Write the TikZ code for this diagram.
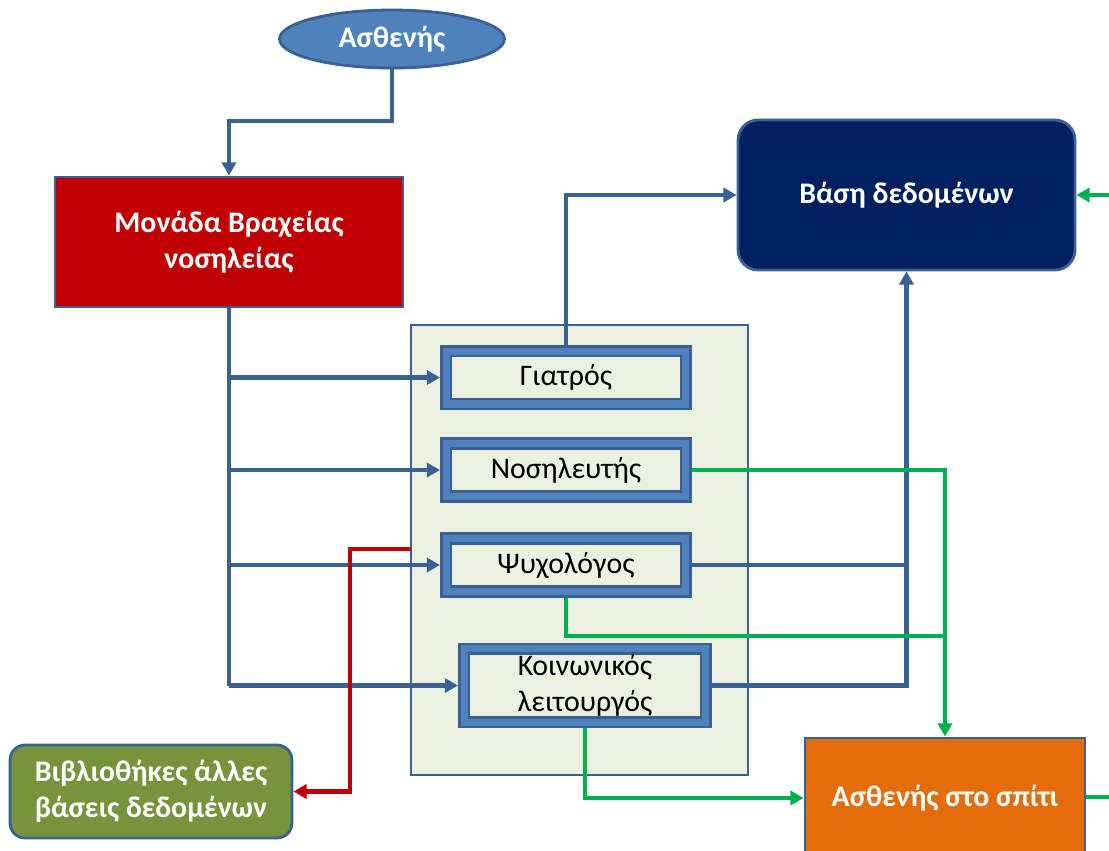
\documentclass[tikz,border=0pt]{standalone}
\usepackage{fontspec}
\setmainfont{Carlito}
\usepackage{xcolor}
\usepackage{tikz}
\usetikzlibrary{shapes.geometric, arrows.meta, positioning}

\definecolor{edgeblue}{HTML}{3A6193}
\definecolor{midblue}{HTML}{4F81BD}
\definecolor{unitred}{HTML}{C00000}
\definecolor{panelfill}{HTML}{EBF1DE}
\definecolor{dbnavy}{HTML}{002060}
\definecolor{homeorange}{HTML}{E46C0A}
\definecolor{libolive}{HTML}{77933C}
\definecolor{flowgreen}{HTML}{00B050}

\begin{document}
\begin{tikzpicture}[
    x=0.02cm, y=-0.02cm,
    % Shapes
    startnode/.style={ellipse, draw=edgeblue, fill=midblue, line width=1.6pt, minimum width=4.5cm, minimum height=1.16cm, inner sep=0pt, text=white, font=\fontsize{17}{20.5}\selectfont\bfseries},
    bigbox/.style={rectangle, draw=edgeblue, line width=1.6pt, align=center, text=white, font=\fontsize{17}{20.5}\selectfont\bfseries},
    panel/.style={rectangle, draw=edgeblue, fill=panelfill, line width=1.6pt, minimum width=6.74cm, minimum height=9cm},
    rolebox/.style={rectangle, draw=edgeblue, double=midblue, double distance=4pt, line width=1.5pt, fill=panelfill, minimum width=4.8cm, minimum height=1.06cm, outer sep=0.12cm, align=center, font=\fontsize{17}{20.5}\selectfont},
    % Connectors
    blueline/.style={draw=edgeblue, line width=2.3pt},
    bluearrow/.style={blueline, -{Triangle[length=7.5pt,width=8pt]}},
    greenline/.style={draw=flowgreen, line width=2.3pt},
    greenarrow/.style={greenline, -{Triangle[length=7.5pt,width=8pt]}},
    redarrow/.style={draw=unitred, line width=2.3pt, -{Triangle[length=7.5pt,width=8pt]}}
]
    \clip (0,0) rectangle (1109,850);

    % Patient
    \node[startnode] (patient) at (392,39) {Ασθενής};

    % Short stay unit
    \node[bigbox, fill=unitred, minimum width=6.96cm, minimum height=2.6cm] (unit) at (229,242) {Μονάδα Βραχείας\\νοσηλείας};

    % Staff panel
    \node[panel] (staff) at (579.5,550) {};
    \node[rolebox] (doctor) at (566,377.5) {Γιατρός};
    \node[rolebox] (nurse) at (566,470) {Νοσηλευτής};
    \node[rolebox] (psych) at (566,565) {Ψυχολόγος};
    \node[rolebox, minimum width=4.84cm, minimum height=1.42cm] (social) at (585,685.5) {Κοινωνικός\\λειτουργός};

    % Database
    \node[bigbox, fill=dbnavy, rounded corners=0.4cm, minimum width=6.74cm, minimum height=3cm] (db) at (906.5,195) {Βάση δεδομένων};

    % Patient at home
    \node[bigbox, fill=homeorange, minimum width=5.6cm, minimum height=2.4cm] (home) at (945,798) {Ασθενής στο σπίτι};

    % Other libraries
    \node[bigbox, fill=libolive, rounded corners=0.3cm, minimum width=5.64cm, minimum height=1.86cm] (libs) at (151,791.5) {Βιβλιοθήκες άλλες\\βάσεις δεδομένων};

    % Free ends
    \coordinate (greenjoin) at (945,636);
    \coordinate (redstart) at (411,549);
    \coordinate (dbin) at (1109,195);
    \coordinate (homeout) at (1109,797);

    % Blue flow
    \draw[bluearrow] (patient.south) -- ++(0,52) -| (unit.north);
    \draw[blueline] (unit.south) -- (unit.south |- social.west);
    \draw[bluearrow] (unit.south |- doctor.west) -- (doctor.west);
    \draw[bluearrow] (unit.south |- nurse.west) -- (nurse.west);
    \draw[bluearrow] (unit.south |- psych.west) -- (psych.west);
    \draw[bluearrow] (unit.south |- social.west) -- (social.west);
    \draw[bluearrow] (doctor.north) |- (db.west);
    \draw[blueline] (psych.east) -- (psych.east -| db.south);
    \draw[bluearrow] (social.east) -| (db.south);

    % Green flow
    \draw[greenarrow] (nurse.east) -| (home.north);
    \draw[greenline] (psych.south) |- (greenjoin);
    \draw[greenarrow] (social.south) |- (home.west);
    \draw[greenarrow] (dbin) -- (db.east);
    \draw[greenline] (home.east |- homeout) -- (homeout);

    % Red flow
    \draw[redarrow] (redstart) -- ++(-61,0) |- (libs.east);
\end{tikzpicture}
\end{document}
